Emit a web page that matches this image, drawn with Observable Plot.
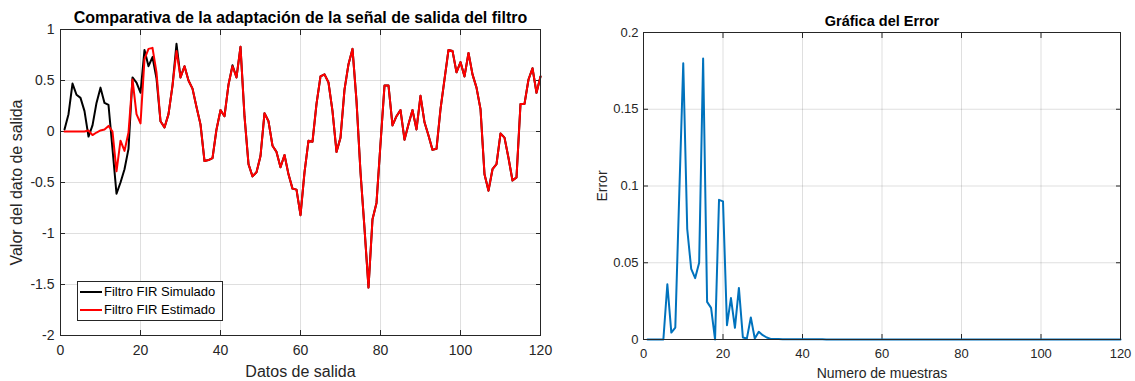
<!DOCTYPE html>
<html><head><meta charset="utf-8">
<script src="https://cdn.jsdelivr.net/npm/d3@7"></script>
<script src="https://cdn.jsdelivr.net/npm/@observablehq/plot@0.6"></script>
<style>
body{margin:0;background:#fff;font-family:"Liberation Sans",Arial,Helvetica,sans-serif;}
#wrap{position:relative;width:1135px;height:381px;overflow:hidden;background:#fff;}
#wrap svg{position:absolute;top:0;overflow:visible;}
.legend{position:absolute;left:77px;top:281px;width:144px;height:38px;border:1px solid #262626;background:#fff;}
.sw{position:absolute;left:2px;width:22px;height:2px;}
.lt{position:absolute;left:26px;font-size:13px;line-height:16px;color:#000;white-space:nowrap;}
</style></head><body>
<div id="wrap">
  <div class="legend" id="legend">
    <div class="sw" style="top:9px;background:#000"></div><div class="lt" style="top:2px">Filtro FIR Simulado</div>
    <div class="sw" style="top:27px;background:#ff0000"></div><div class="lt" style="top:20px">Filtro FIR Estimado</div>
  </div>
</div>
<script>
// ---- data (sample n = 1..120) ----
const simulado = [0.02,0.17,0.47,0.36,0.33,0.20,-0.05,0.06,0.28,0.43,
  0.28,0.26,-0.17,-0.61,-0.50,-0.37,-0.17,0.53,0.48,0.38,
  0.80,0.64,0.73,0.52,0.10,0.04,0.17,0.45,0.86,0.53,
  0.64,0.50,0.42,0.24,0.07,-0.29,-0.28,-0.26,0.02,0.21,
  0.15,0.46,0.65,0.53,0.83,0.15,-0.32,-0.44,-0.40,-0.24,
  0.18,0.10,-0.14,-0.20,-0.35,-0.23,-0.42,-0.56,-0.57,-0.82,
  -0.40,-0.09,-0.10,0.27,0.54,0.56,0.48,0.20,-0.20,-0.06,
  0.41,0.66,0.81,0.30,-0.40,-0.95,-1.53,-0.86,-0.70,-0.12,
  0.45,0.45,0.06,0.15,0.21,-0.08,0.07,0.21,0.02,0.35,
  0.09,-0.04,-0.18,-0.17,0.22,0.51,0.80,0.79,0.58,0.68,
  0.54,0.77,0.56,0.43,0.22,-0.42,-0.58,-0.37,-0.32,-0.02,
  -0.06,-0.26,-0.48,-0.45,0.27,0.27,0.51,0.62,0.38,0.54];
const estimado = [0,0,0,0,0,0,0.01,-0.035,-0.01,0.01,
  0.02,0.055,0.0,-0.39,-0.09,-0.19,-0.01,0.51,0.17,0.08,
  0.71,0.81,0.82,0.58,0.10,0.04,0.17,0.45,0.79,0.53,
  0.64,0.50,0.42,0.24,0.07,-0.29,-0.28,-0.26,0.02,0.21,
  0.15,0.46,0.64,0.53,0.83,0.15,-0.32,-0.44,-0.40,-0.24,
  0.18,0.10,-0.14,-0.20,-0.35,-0.23,-0.42,-0.56,-0.57,-0.82,
  -0.40,-0.09,-0.10,0.27,0.54,0.56,0.48,0.20,-0.20,-0.06,
  0.41,0.66,0.81,0.30,-0.40,-0.95,-1.53,-0.86,-0.70,-0.12,
  0.45,0.45,0.06,0.15,0.21,-0.08,0.07,0.21,0.02,0.35,
  0.09,-0.04,-0.18,-0.17,0.22,0.51,0.80,0.79,0.58,0.68,
  0.54,0.77,0.56,0.43,0.22,-0.42,-0.58,-0.37,-0.32,-0.02,
  -0.06,-0.26,-0.48,-0.45,0.27,0.27,0.51,0.62,0.38,0.54];
const errorVals = [0,0,0,0,0,0.036,0.0045,0.0078,0.095,0.18,
  0.072,0.046,0.040,0.050,0.183,0.0245,0.0206,0,0.091,0.090,
  0.0093,0.027,0.0076,0.0336,0.0013,0.0006,0.0143,0.0006,0.005,0.0028,
  0.0013,0.0004,0.0003,0.0003,0.0002,0.0002,0.0002,0.0001,0.0001,0.0001,
  0.0001,0.0001,0.0002,0.0002,0.0001,0,0,0,0,0,
  0,0,0,0,0,0,0,0,0,0,
  0,0,0,0,0,0,0,0,0,0,
  0,0,0,0,0,0,0,0,0,0,
  0,0,0,0,0,0,0,0,0,0,
  0,0,0,0,0,0,0,0,0,0,
  0,0,0,0,0,0,0,0,0,0,
  0,0,0,0,0,0,0,0,0,0];
const ticksX = [0,20,40,60,80,100,120];
const ticksYLeft = [-2,-1.5,-1,-0.5,0,0.5,1];
const ticksYRight = [0,0.05,0.1,0.15,0.2];
const titleLeft = "Comparativa de la adaptación de la señal de salida del filtro";
const titleRight = "Gráfica del Error";
const xLabelLeft = "Datos de salida";
const yLabelLeft = "Valor del dato de salida";
const xLabelRight = "Numero de muestras";
const yLabelRight = "Error";

const FONT = '"Liberation Sans",Arial,Helvetica,sans-serif';
const AX = "#262626";
const fmt = d => String(d);

function boxAxes(tx, ty, fs, padX, padY) {
  return [
    Plot.gridX(tx, {stroke: AX, strokeOpacity: 0.15}),
    Plot.gridY(ty, {stroke: AX, strokeOpacity: 0.15}),
    Plot.axisX(tx, {anchor: "bottom", tickSize: 5, fill: "none", stroke: AX, dy: -5}),
    Plot.axisX(tx, {anchor: "top", tickSize: 5, fill: "none", stroke: AX, dy: 5}),
    Plot.axisY(ty, {anchor: "left", tickSize: 5, fill: "none", stroke: AX, dx: 5}),
    Plot.axisY(ty, {anchor: "right", tickSize: 5, fill: "none", stroke: AX, dx: -5}),
    Plot.axisX(tx, {anchor: "bottom", tickSize: 0, tickPadding: padX, tickFormat: fmt, fontSize: fs, fill: AX, label: null}),
    Plot.axisY(ty, {anchor: "left", tickSize: 0, tickPadding: padY, tickFormat: fmt, fontSize: fs, fill: AX, label: null}),
  ];
}

const left = Plot.plot({
  width: 560, height: 381,
  marginLeft: 60, marginRight: 20, marginTop: 29, marginBottom: 46,
  style: {fontFamily: FONT, color: AX, background: "transparent", overflow: "visible"},
  x: {domain: [0, 120]},
  y: {domain: [-2, 1]},
  marks: [
    ...boxAxes(ticksX, ticksYLeft, 14, 10, 6),
    Plot.line(simulado, {x: (d, i) => i + 1, y: d => d, stroke: "#000000", strokeWidth: 2}),
    Plot.line(estimado, {x: (d, i) => i + 1, y: d => d, stroke: "#ff0000", strokeWidth: 2}),
    Plot.frame({stroke: AX, strokeWidth: 1}),
    Plot.text([titleLeft], {frameAnchor: "top", lineAnchor: "top", textAnchor: "middle", dy: -18, fontSize: 16, fontWeight: "bold", fill: "#000", text: d => d}),
    Plot.text([xLabelLeft], {frameAnchor: "bottom", lineAnchor: "top", textAnchor: "middle", dy: 30.5, fontSize: 16, fill: AX, text: d => d}),
    Plot.text([yLabelLeft], {frameAnchor: "left", lineAnchor: "top", textAnchor: "middle", rotate: -90, dx: -50, fontSize: 16, fill: AX, text: d => d})
  ]
});
left.style.left = "0px";

const right = Plot.plot({
  width: 555, height: 381,
  marginLeft: 63, marginRight: 15, marginTop: 32, marginBottom: 42,
  style: {fontFamily: FONT, color: AX, background: "transparent", overflow: "visible"},
  x: {domain: [0, 120]},
  y: {domain: [0, 0.2]},
  marks: [
    ...boxAxes(ticksX, ticksYRight, 13, 9, 5),
    Plot.line(errorVals, {x: (d, i) => i + 1, y: d => d, stroke: "#0072BD", strokeWidth: 2}),
    Plot.frame({stroke: AX, strokeWidth: 1}),
    Plot.text([titleRight], {frameAnchor: "top", lineAnchor: "top", textAnchor: "middle", dy: -17, fontSize: 14.5, fontWeight: "bold", fill: "#000", text: d => d}),
    Plot.text([xLabelRight], {frameAnchor: "bottom", lineAnchor: "top", textAnchor: "middle", dy: 29, fontSize: 14, fill: AX, text: d => d}),
    Plot.text([yLabelRight], {frameAnchor: "left", lineAnchor: "top", textAnchor: "middle", rotate: -90, dx: -46, fontSize: 14, fill: AX, text: d => d})
  ]
});
right.style.left = "580px";

const wrap = document.getElementById("wrap");
wrap.insertBefore(right, wrap.firstChild);
wrap.insertBefore(left, wrap.firstChild);
</script>
</body></html>
